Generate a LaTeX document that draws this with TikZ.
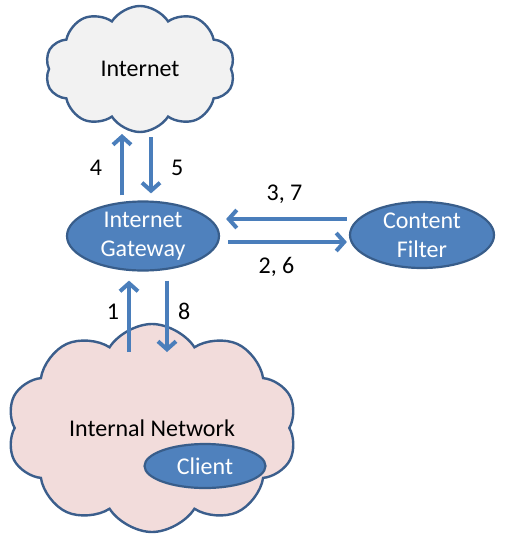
\documentclass[tikz,border=0pt]{standalone}
\usepackage{fontspec}
\setmainfont{Carlito}
\usetikzlibrary{arrows.meta,positioning,shapes.symbols,shapes.geometric}
\definecolor{cloudline}{HTML}{3B5E8C}
\definecolor{netgray}{HTML}{F2F2F2}
\definecolor{netpink}{HTML}{F2DCDB}
\definecolor{office}{HTML}{4F81BD}
\definecolor{officedark}{HTML}{385D8A}
\definecolor{flowblue}{HTML}{4A7EBB}
\tikzset{
  every node/.style={font=\fontsize{24}{29}\selectfont,text=black},
  netcloud/.style={cloud,cloud puffs=10,cloud puff arc=115,cloud ignores aspect,draw=cloudline,line width=2.4pt,inner sep=0pt},
  device/.style={ellipse,draw=officedark,line width=2.2pt,fill=office,text=white,align=center,inner sep=0pt},
  flow/.style={-{Straight Barb[length=8pt,width=18pt]},line width=4pt,draw=flowblue},
  steplabel/.style={inner sep=0pt}
}

\begin{document}
\begin{tikzpicture}[x=1pt,y=-1pt]
  \fill[white] (0,0) rectangle (506,541);
  \useasboundingbox (0,0) rectangle (506,541);

  \node[netcloud,fill=netgray,minimum width=190,minimum height=126] (inet) at (140,69) {Internet};
  \node[netcloud,fill=netpink,minimum width=290,minimum height=208] (lan) at (152,428) {Internal Network};
  \node[device,minimum width=121,minimum height=44] (client) at (205,466) {Client};
  \node[device,minimum width=152,minimum height=69] (gw) at (143,236) {Internet\\Gateway};
  \node[device,minimum width=144,minimum height=66] (filter) at (422,235) {Content\\Filter};
  \coordinate (lanin) at ([yshift=76pt]lan.center);
  \coordinate (inetout) at ([yshift=-66pt]inet.center);

  \draw[flow,shorten <=5pt,shorten >=-1pt] ([xshift=-21pt]gw.north) -- ([xshift=-18pt]inetout) node[steplabel,midway,left=18pt]{4};
  \draw[flow,shorten <=2pt,shorten >=7pt] ([xshift=11pt]inetout) -- ([xshift=11pt]inetout |- gw.north) node[steplabel,midway,right=18pt]{5};
  \draw[flow,shorten <=2pt,shorten >=6pt] ([yshift=16pt]filter.west) -- ([yshift=16pt]filter.west -| gw.east) node[steplabel,midway,above=13pt]{3, 7};
  \draw[flow,shorten <=8pt,shorten >=2pt] ([yshift=-6pt]gw.east) -- ([yshift=-6pt]gw.east -| filter.west) node[steplabel,midway,below=13pt,xshift=-8pt]{2, 6};
  \draw[flow,shorten >=9pt] ([xshift=-14pt]gw.south |- lanin) -- ([xshift=-14pt]gw.south) node[steplabel,midway,left=8pt]{1};
  \draw[flow,shorten <=9pt] ([xshift=24pt]gw.south) -- ([xshift=24pt]gw.south |- lanin) node[steplabel,midway,right=9pt]{8};
\end{tikzpicture}
\end{document}
